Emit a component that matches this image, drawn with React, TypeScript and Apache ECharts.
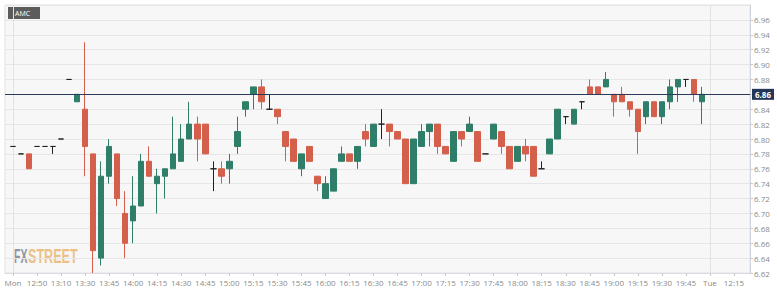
import React, { useEffect, useRef } from "react";
import * as echarts from "echarts";

// ---- data (5-minute candles, AMC) ----
const opens = [
  6.79, 6.78, 6.78, 6.79, 6.79, 6.79, 6.80, 6.88, 6.85, 6.84,
  6.78, 6.64, 6.75, 6.78, 6.70, 6.69, 6.71, 6.77, 6.74, 6.75,
  6.76, 6.77, 6.80, 6.82, 6.82, 6.76, 6.76, 6.76, 6.79, 6.84,
  6.86, 6.87, 6.84, 6.84, 6.81, 6.80, 6.76, 6.79, 6.75, 6.72,
  6.73, 6.77, 6.78, 6.77, 6.81, 6.79, 6.82, 6.82, 6.81, 6.80,
  6.74, 6.79, 6.81, 6.82, 6.79, 6.77, 6.81, 6.81, 6.81, 6.78,
  6.80, 6.81, 6.79, 6.77, 6.79, 6.79, 6.76, 6.78, 6.80, 6.83,
  6.82, 6.85, 6.87, 6.87, 6.87, 6.86, 6.86, 6.85, 6.84, 6.83,
  6.85, 6.83, 6.85, 6.87, 6.88, 6.88, 6.85,
];
const closes = [
  6.79, 6.78, 6.76, 6.79, 6.79, 6.79, 6.80, 6.88, 6.86, 6.79,
  6.65, 6.75, 6.79, 6.72, 6.66, 6.71, 6.77, 6.75, 6.75, 6.76,
  6.78, 6.80, 6.82, 6.80, 6.78, 6.76, 6.75, 6.77, 6.81, 6.85,
  6.87, 6.85, 6.84, 6.83, 6.79, 6.77, 6.78, 6.77, 6.74, 6.74,
  6.76, 6.78, 6.77, 6.79, 6.80, 6.82, 6.82, 6.81, 6.80, 6.74,
  6.80, 6.81, 6.82, 6.79, 6.78, 6.81, 6.80, 6.82, 6.77, 6.78,
  6.82, 6.79, 6.76, 6.79, 6.78, 6.75, 6.76, 6.80, 6.84, 6.83,
  6.84, 6.85, 6.86, 6.86, 6.88, 6.85, 6.85, 6.84, 6.81, 6.85,
  6.83, 6.85, 6.87, 6.88, 6.88, 6.86, 6.86,
];
const lows = [
  6.79, 6.78, 6.76, 6.79, 6.79, 6.78, 6.80, 6.88, 6.85, 6.75,
  6.62, 6.63, 6.74, 6.71, 6.64, 6.66, 6.71, 6.75, 6.70, 6.72,
  6.76, 6.77, 6.80, 6.77, 6.78, 6.73, 6.74, 6.74, 6.78, 6.83,
  6.84, 6.84, 6.84, 6.82, 6.77, 6.77, 6.75, 6.77, 6.73, 6.72,
  6.73, 6.77, 6.77, 6.76, 6.79, 6.79, 6.80, 6.79, 6.80, 6.74,
  6.74, 6.79, 6.79, 6.78, 6.78, 6.77, 6.79, 6.81, 6.77, 6.78,
  6.80, 6.78, 6.76, 6.77, 6.77, 6.75, 6.76, 6.78, 6.80, 6.82,
  6.82, 6.84, 6.86, 6.86, 6.87, 6.83, 6.85, 6.83, 6.78, 6.82,
  6.83, 6.82, 6.84, 6.85, 6.87, 6.85, 6.82,
];
const highs = [
  6.79, 6.78, 6.78, 6.79, 6.79, 6.79, 6.80, 6.88, 6.86, 6.93,
  6.78, 6.77, 6.80, 6.78, 6.73, 6.75, 6.78, 6.79, 6.76, 6.76,
  6.83, 6.82, 6.85, 6.83, 6.82, 6.77, 6.77, 6.78, 6.83, 6.85,
  6.87, 6.88, 6.86, 6.84, 6.81, 6.80, 6.78, 6.79, 6.75, 6.75,
  6.76, 6.79, 6.78, 6.79, 6.82, 6.82, 6.84, 6.82, 6.81, 6.80,
  6.80, 6.82, 6.82, 6.82, 6.79, 6.81, 6.81, 6.83, 6.81, 6.78,
  6.82, 6.81, 6.79, 6.79, 6.80, 6.79, 6.77, 6.80, 6.84, 6.83,
  6.84, 6.85, 6.88, 6.87, 6.89, 6.86, 6.87, 6.85, 6.84, 6.85,
  6.85, 6.85, 6.88, 6.88, 6.88, 6.88, 6.87,
];
// one tick label every 3 candles, starting at the first candle
const tickLabels = [
  "Mon", "12:50", "13:10", "13:30", "13:45", "14:00", "14:15", "14:30",
  "14:45", "15:00", "15:15", "15:30", "15:45", "16:00", "16:15", "16:30",
  "16:45", "17:00", "17:15", "17:30", "17:45", "18:00", "18:15", "18:30",
  "18:45", "19:00", "19:15", "19:30", "19:45", "Tue", "12:15",
];
const dayBreakLabels = ["Mon", "Tue"];
const lastPrice = 6.86;
const yMin = 6.62;
const yMax = 6.98;
const yStep = 0.02;

const TOTAL_SLOTS = 94; // slot 0 is an empty lead-in slot
const isLabelSlot = (k: number) => k >= 1 && (k - 1) % 3 === 0 && (k - 1) / 3 < tickLabels.length;
const categories = Array.from({ length: TOTAL_SLOTS }, (_, k) =>
  isLabelSlot(k) ? tickLabels[(k - 1) / 3] : `s${k}`
);
const dayBreakSlots = dayBreakLabels.map((l) => categories.indexOf(l));

const candleData = opens.map((o, i) => [i + 1, o, closes[i], lows[i], highs[i]]);

const GREEN = "#2f7e69";
const RED = "#d45f4a";
const FONT = "'Open Sans', 'Noto Sans', sans-serif";

export default function App() {
  const ref = useRef<HTMLDivElement>(null);
  useEffect(() => {
    if (!ref.current) return;
    const chart = echarts.init(ref.current, null, { renderer: "svg" });
    chart.setOption({
      animation: false,
      backgroundColor: "#ffffff",
      textStyle: { fontFamily: FONT },
      grid: {
        left: 5,
        right: 27,
        top: 5,
        bottom: 19,
        show: true,
        backgroundColor: "#f7f7f7",
        borderColor: "#e3e3e3",
        borderWidth: 1,
      },
      xAxis: {
        type: "category",
        data: categories,
        boundaryGap: false,
        axisLine: { show: true, lineStyle: { color: "#d8dde5" } },
        axisTick: {
          show: true,
          length: 3,
          interval: (idx: number) => isLabelSlot(idx),
          lineStyle: { color: "#c8c8c8" },
        },
        axisLabel: {
          interval: (idx: number) => isLabelSlot(idx),
          formatter: (v: string) => (v.startsWith("s") ? "" : v),
          color: "#8a8a8a",
          fontSize: 8,
          margin: 5,
          hideOverlap: false,
        },
        splitLine: {
          show: true,
          interval: (idx: number) => dayBreakSlots.includes(idx),
          lineStyle: { color: "#e2e2e2", width: 1 },
        },
      },
      yAxis: {
        type: "value",
        position: "right",
        min: yMin,
        max: yMax,
        interval: yStep,
        scale: true,
        axisLine: { show: true, lineStyle: { color: "#cdd4de" } },
        axisTick: { show: true, length: 3, lineStyle: { color: "#c8c8c8" } },
        axisLabel: {
          color: "#8a8a8a",
          fontSize: 8,
          margin: 4,
          showMaxLabel: false,
          formatter: (v: number) => v.toFixed(2),
        },
        splitLine: { show: true, lineStyle: { color: "#e6e6e6", width: 1 } },
      },
      series: [
        {
          name: "AMC",
          type: "candlestick",
          data: candleData,
          encode: { x: 0, y: [1, 2, 3, 4] },
          barWidth: 6,
          itemStyle: {
            color: GREEN,
            color0: RED,
            borderColor: GREEN,
            borderColor0: RED,
            borderColorDoji: "#222222",
            borderWidth: 1,
          },
          markLine: {
            silent: true,
            symbol: ["none", "none"],
            data: [
              {
                yAxis: lastPrice,
                lineStyle: { color: "#2b3b5c", width: 1, type: "solid" },
                label: {
                  show: true,
                  position: "end",
                  distance: 2,
                  formatter: (p: any) => Number(p.value).toFixed(2),
                  backgroundColor: "#24355a",
                  color: "#ffffff",
                  fontSize: 8,
                  fontWeight: "bold",
                  padding: [2, 3, 1, 3],
                },
              },
            ],
          },
        },
      ],
      graphic: [
        {
          type: "rect",
          x: 8,
          y: 7,
          shape: { width: 32, height: 12 },
          style: { fill: "#5c5c5c" },
          silent: true,
        },
        {
          type: "text",
          x: 15,
          y: 13.5,
          style: {
            text: "AMC",
            fill: "#ffffff",
            fontSize: 7,
            fontFamily: FONT,
            verticalAlign: "middle",
          },
          silent: true,
        },
        {
          type: "text",
          x: 14,
          y: 256,
          scaleX: 0.5,
          style: {
            text: "FX",
            fill: "#8f95a1",
            fontSize: 21,
            fontWeight: "bold",
            fontFamily: "'Liberation Sans', Arial, sans-serif",
            verticalAlign: "middle",
          },
          silent: true,
        },
        {
          type: "text",
          x: 28,
          y: 256,
          scaleX: 0.6,
          style: {
            text: "STREET",
            fill: "#ebc186",
            fontSize: 21,
            fontWeight: "bold",
            fontFamily: "'Liberation Sans', Arial, sans-serif",
            verticalAlign: "middle",
          },
          silent: true,
        },
      ],
    });
    return () => chart.dispose();
  }, []);
  return (
    <div
      ref={ref}
      style={{ position: "absolute", left: 0, top: 0, width: 777, height: 292 }}
    />
  );
}
